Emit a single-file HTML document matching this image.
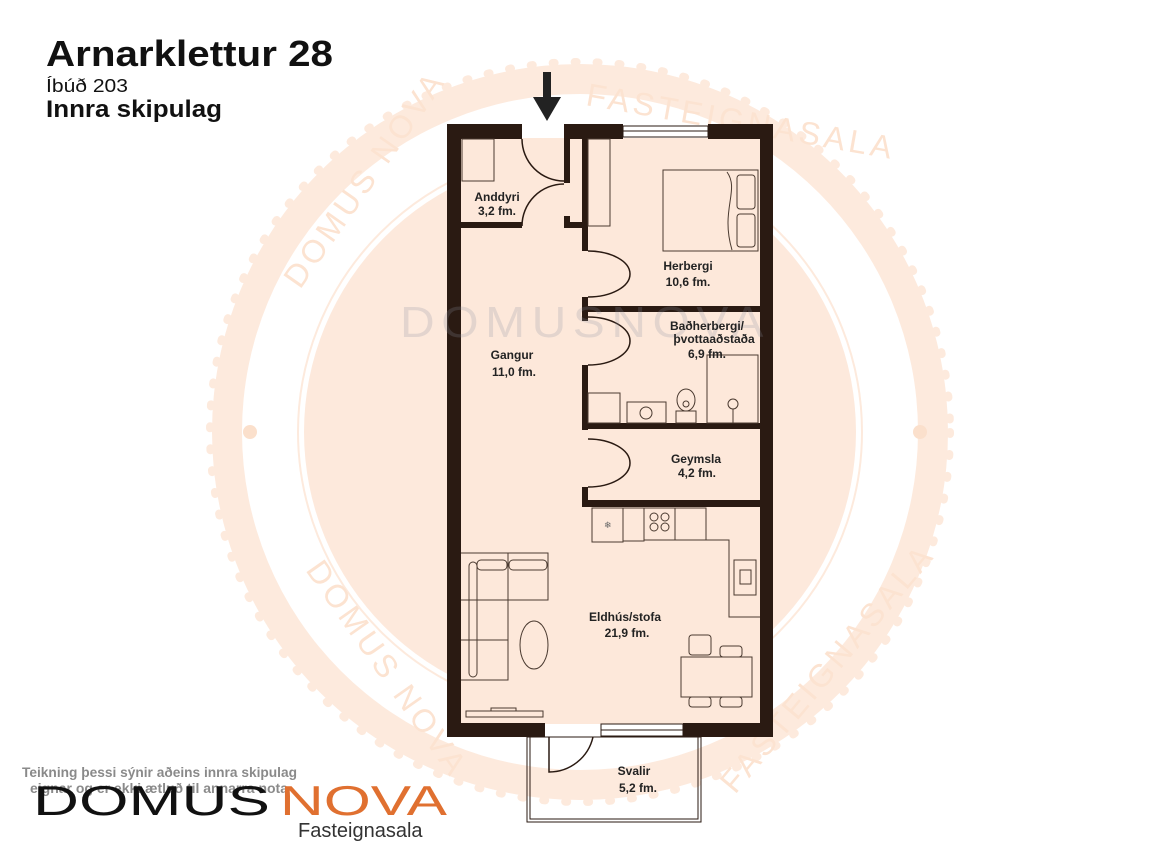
<!DOCTYPE html>
<html><head><meta charset="utf-8"><style>
html,body{margin:0;padding:0;background:#fff;}
svg{display:block;}
text{font-family:"Liberation Sans",sans-serif;}
</style></head><body>
<svg width="1156" height="867" viewBox="0 0 1156 867" xmlns="http://www.w3.org/2000/svg">
<rect width="1156" height="867" fill="#fff"/>
<!-- watermark -->
<circle cx="580" cy="432" r="368" fill="#fdeadd"/>
<circle cx="580" cy="432" r="370" fill="none" stroke="#fdeadd" stroke-width="8" stroke-dasharray="2 20" stroke-linecap="round"/>
<circle cx="580" cy="432" r="338" fill="#fff"/>
<circle cx="580" cy="432" r="276" fill="#fde9dc"/>
<circle cx="580" cy="432" r="282" fill="none" stroke="#fdeadd" stroke-width="2"/>
<circle cx="250" cy="432" r="7" fill="#fbe0cc"/>
<circle cx="920" cy="432" r="7" fill="#fbe0cc"/>
<g fill="#fce3d1" font-size="32">
<text x="300" y="290" transform="rotate(-55 300 290)" letter-spacing="4">DOMUS NOVA</text>
<text x="585" y="105" transform="rotate(10 585 105)" letter-spacing="4">FASTEIGNASALA</text>
<text x="305" y="570" transform="rotate(55 305 570)" letter-spacing="4">DOMUS NOVA</text>
<text x="735" y="795" transform="rotate(-50 735 795)" letter-spacing="4">FASTEIGNASALA</text>
</g>

<!-- titles -->
<text x="46" y="66" font-size="36" font-weight="bold" fill="#111" textLength="287" lengthAdjust="spacingAndGlyphs">Arnarklettur 28</text>
<text x="46" y="92" font-size="18" fill="#111" textLength="82" lengthAdjust="spacingAndGlyphs">Íbúð 203</text>
<text x="46" y="117" font-size="24" font-weight="bold" fill="#111" textLength="176" lengthAdjust="spacingAndGlyphs">Innra skipulag</text>

<!-- arrow -->
<rect x="543" y="72" width="8" height="26" fill="#222"/>
<polygon points="533,97 561,97 547,121" fill="#222"/>

<!-- interior fill -->
<rect x="461" y="138" width="300" height="586" fill="#fde8da"/>

<g fill="#2a1a12">
<rect x="447" y="124" width="14" height="613"/>
<rect x="447" y="124" width="75" height="15"/>
<rect x="564" y="124" width="59" height="15"/>
<rect x="708" y="124" width="65" height="15"/>
<rect x="760" y="124" width="13" height="613"/>
<rect x="447" y="723" width="98" height="14"/>
<rect x="683" y="723" width="90" height="14"/>
<rect x="461" y="222" width="61" height="6"/>
<rect x="564" y="222" width="24" height="6"/>
<rect x="564" y="139" width="6" height="44"/>
<rect x="564" y="216" width="6" height="12"/>
<rect x="582" y="139" width="6" height="112"/>
<rect x="582" y="297" width="6" height="24"/>
<rect x="582" y="306" width="178" height="6"/>
<rect x="582" y="365" width="6" height="65"/>
<rect x="582" y="423" width="178" height="6"/>
<rect x="582" y="487" width="6" height="20"/>
<rect x="582" y="500" width="178" height="7"/>
</g>
<rect x="623" y="126" width="85" height="11" fill="#fff" stroke="#2a1a12" stroke-width="1"/>
<line x1="623" y1="131" x2="708" y2="131" stroke="#2a1a12"/>
<rect x="601" y="724" width="82" height="12" fill="#fff" stroke="#2a1a12" stroke-width="1"/>
<line x1="601" y1="730" x2="683" y2="730" stroke="#2a1a12"/>

<g fill="none" stroke="#2a1a12" stroke-width="1.5">
<path d="M522,139 A42,42 0 0 0 564,181"/>
<path d="M564,184 A42,42 0 0 0 522,226"/>
<path d="M588,251 A42,23 0 0 1 588,297"/>
<path d="M588,317 A42,24 0 0 1 588,365"/>
<path d="M588,439 A42,24 0 0 1 588,487"/>
<path d="M549,737 L549,772 A45,45 0 0 0 593,737"/>
</g>
<rect x="527" y="737" width="174" height="85" fill="none" stroke="#2a1a12" stroke-width="1"/>
<rect x="530" y="737" width="168" height="82" fill="none" stroke="#2a1a12" stroke-width="1"/>

<g fill="none" stroke="#4a3a30" stroke-width="1">
<rect x="462" y="139" width="32" height="42"/>
<rect x="588" y="139" width="22" height="87"/>
<rect x="663" y="170" width="95" height="81"/>
<rect x="737" y="175" width="18" height="34" rx="3"/>
<rect x="737" y="214" width="18" height="33" rx="3"/>
<path d="M727,172 C740,190 720,210 732,250"/>
<rect x="588" y="393" width="32" height="30"/>
<rect x="627" y="402" width="39" height="21"/>
<circle cx="646" cy="413" r="6"/>
<ellipse cx="686" cy="400" rx="9" ry="11"/>
<circle cx="686" cy="404" r="3"/>
<rect x="676" y="411" width="20" height="12"/>
<rect x="707" y="355" width="51" height="68"/>
<circle cx="733" cy="404" r="5"/>
<line x1="733" y1="409" x2="733" y2="423"/>
<rect x="592" y="508" width="31" height="34"/>
<rect x="623" y="508" width="21" height="33"/>
<rect x="644" y="508" width="31" height="32"/>
<circle cx="654" cy="517" r="4"/><circle cx="665" cy="517" r="4"/>
<circle cx="654" cy="527" r="4"/><circle cx="665" cy="527" r="4"/>
<rect x="675" y="508" width="31" height="32"/>
<path d="M706,508 V540 H729 V617 H760"/>
<rect x="734" y="560" width="22" height="35"/>
<rect x="740" y="570" width="11" height="14"/>
<path d="M461,553 H548 V600 H508 V680 H461"/>
<line x1="508" y1="553" x2="508" y2="600"/>
<line x1="461" y1="600" x2="508" y2="600"/>
<line x1="461" y1="640" x2="508" y2="640"/>
<rect x="469" y="562" width="8" height="115" rx="4"/>
<rect x="477" y="560" width="30" height="10" rx="4"/>
<rect x="509" y="560" width="38" height="10" rx="4"/>
<ellipse cx="534" cy="645" rx="14" ry="24"/>
<rect x="681" y="657" width="71" height="40"/>
<rect x="689" y="635" width="22" height="20" rx="3"/>
<rect x="720" y="646" width="22" height="11" rx="3"/>
<rect x="689" y="697" width="22" height="10" rx="3"/>
<rect x="720" y="697" width="22" height="10" rx="3"/>
<rect x="466" y="711" width="77" height="6"/>
<rect x="491" y="708" width="25" height="3"/>
</g>
<text x="604" y="528" font-size="9" fill="#666">❄</text>

<!-- central watermark overlay -->
<text x="400" y="337" font-size="44" fill="#8a8fa0" opacity="0.22" letter-spacing="6" textLength="370" lengthAdjust="spacingAndGlyphs">DOMUSNOVA</text>

<g font-size="12" font-weight="bold" fill="#222" text-anchor="middle">
<text x="497" y="201">Anddyri</text><text x="497" y="215">3,2 fm.</text>
<text x="688" y="270">Herbergi</text><text x="688" y="286">10,6 fm.</text>
<text x="707" y="330">Baðherbergi/</text><text x="714" y="343">þvottaaðstaða</text><text x="707" y="358">6,9 fm.</text>
<text x="512" y="359">Gangur</text><text x="514" y="376">11,0 fm.</text>
<text x="696" y="463">Geymsla</text><text x="697" y="477">4,2 fm.</text>
<text x="625" y="621">Eldhús/stofa</text><text x="627" y="637">21,9 fm.</text>
<text x="634" y="775">Svalir</text><text x="638" y="792">5,2 fm.</text>
</g>

<!-- footer -->
<text x="22" y="777" font-size="14" font-weight="bold" fill="#8a8a8a" textLength="275" lengthAdjust="spacingAndGlyphs">Teikning þessi sýnir aðeins innra skipulag</text>
<text x="30" y="793" font-size="14" font-weight="bold" fill="#8a8a8a" textLength="258" lengthAdjust="spacingAndGlyphs">eignar og er ekki ætluð til annarra nota</text>
<text x="33" y="815" font-size="42" fill="#111" textLength="237" lengthAdjust="spacingAndGlyphs">DOMUS</text>
<text x="280" y="815" font-size="42" fill="#e07030" textLength="167" lengthAdjust="spacingAndGlyphs">NOVA</text>
<text x="298" y="837" font-size="20" fill="#333">Fasteignasala</text>
</svg>
</body></html>
